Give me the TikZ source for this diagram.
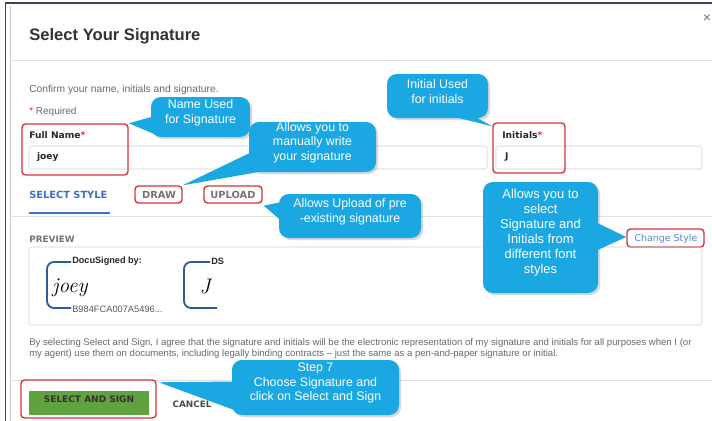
\documentclass[tikz,border=0pt]{standalone}
\usepackage{fontspec}
\newfontfamily\arialf{Liberation Sans}
\newfontfamily\verdf{DejaVu Sans}
\usetikzlibrary{fit,calc,shadows}
\definecolor{callblue}{RGB}{27,168,226}
\definecolor{markred}{RGB}{214,52,60}
\definecolor{tabblue}{RGB}{62,112,200}
\definecolor{btngreen}{RGB}{96,162,64}
\definecolor{sigblue}{RGB}{48,92,150}
\definecolor{frameline}{RGB}{58,70,84}
\definecolor{txtgray}{RGB}{105,105,105}

\tikzset{
  markbox/.style={inner sep=0pt, draw=markred, line width=1pt, rounded corners=2.5pt},
  callbox/.style={inner sep=0pt, fill=callblue, rounded corners=7pt, text=white, align=center,
    font=\arialf\fontsize{8.8}{10.4}\selectfont,
    drop shadow={shadow xshift=1.5pt, shadow yshift=-1.5pt, opacity=0.3}},
  calltail/.style={fill=callblue},
  fieldbox/.style={inner sep=0pt, draw=black!18, rounded corners=1.5pt},
  tablabel/.style={inner sep=0pt, font=\verdf\bfseries\fontsize{7}{8}\selectfont, text=black!55},
  smalltext/.style={inner sep=0pt, anchor=base west, text=txtgray},
  sigline/.style={draw=sigblue, line width=1.3pt, rounded corners=5pt},
  sepline/.style={draw=black!12, line width=0.5pt}
}

\begin{document}
\begin{tikzpicture}[x=0.025cm, y=-0.025cm]
\useasboundingbox (0,0) rectangle (712,421);
\fill[white] (0,0) rectangle (712,421);
\draw[frameline, line width=1.4pt] (5.5,421) -- (5.5,3) -- (712,3);
\draw[black!22] (10,421) -- (10,6);

\node[inner sep=0pt, anchor=base west, text=black!80, font=\arialf\bfseries\fontsize{11.8}{14}\selectfont] (title) at (29,40) {Select Your Signature};
\node[inner sep=0pt, text=black!55, font=\arialf\fontsize{10}{12}\selectfont] (closex) at (707,19) {×};
\draw[sepline] (10,60) -- (712,60);

\node[smalltext, font=\arialf\fontsize{7.3}{8}\selectfont] (confirm) at (29,92) {Confirm your name, initials and signature.};
\node[smalltext, font=\arialf\fontsize{7.1}{8}\selectfont] (required) at (29,114) {\textcolor{markred}{*} Required};

\node[smalltext, text=black!85, font=\verdf\bfseries\fontsize{6.5}{8}\selectfont] (namelabel) at (29,138.5) {Full Name\textcolor{markred}{*}};
\node[fieldbox, fit={(29,146) (487,169)}] (namefield) {};
\node[inner sep=0pt, anchor=west, text=black!85, font=\verdf\bfseries\fontsize{6.5}{8}\selectfont] (namevalue) at ($(namefield.west)+(8,0)$) {joey};
\node[smalltext, text=black!85, font=\verdf\bfseries\fontsize{6.5}{8}\selectfont] (initlabel) at (502,138.5) {Initials\textcolor{markred}{*}};
\node[fieldbox, fit={(496,146) (702,169)}] (initfield) {};
\node[inner sep=0pt, anchor=west, text=black!85, font=\verdf\bfseries\fontsize{6.5}{8}\selectfont] (initvalue) at ($(initfield.west)+(9,0)$) {J};
\node[markbox, fit={(22,124) (128,175)}] (namebox) {};
\node[markbox, fit={(493,123) (565,173)}] (initbox) {};

\node[tablabel, anchor=base west, text=tabblue] (styletab) at (29,198) {SELECT STYLE};
\draw[tabblue, line width=1.4pt] (29,213) -- (110,213);
\node[tablabel] (drawtab) at (159,194.5) {DRAW};
\node[tablabel] (uploadtab) at (233,194.5) {UPLOAD};
\node[markbox, fit={(135,186) (182,203)}] (drawbox) {};
\node[markbox, fit={(204,186) (262,203)}] (uploadbox) {};
\draw[sepline] (10,216) -- (712,216);

\node[tablabel, anchor=base west, font=\verdf\bfseries\fontsize{6.3}{8}\selectfont] (previewlabel) at (29,242) {PREVIEW};
\node[inner sep=0pt, text=tabblue!85, font=\verdf\fontsize{6.7}{8}\selectfont] (changestyle) at (666,238.5) {Change Style};
\node[markbox, fit={(627,229) (704,247)}] (stylebox) {};
\node[fieldbox, fit={(29,247) (702,325)}] (previewbox) {};

\draw[sigline] (71,262) -- (47,262) -- (47,308) -- (71,308);
\node[inner sep=0pt, anchor=west, text=black!85, font=\arialf\bfseries\fontsize{6.5}{8}\selectfont] (docusigned) at (72,261.5) {DocuSigned by:};
\node[inner sep=0pt, anchor=west, text=black!65, font=\arialf\fontsize{6.6}{8}\selectfont] (sigid) at (72,309) {B984FCA007A5496...};
\node[inner sep=0pt, font=\itshape\fontsize{15}{16}\selectfont] (sigjoey) at (70,288) {joey};
\draw[sigline] (210,262) -- (184,262) -- (184,308) -- (217,308);
\node[inner sep=0pt, anchor=west, text=black!85, font=\arialf\bfseries\fontsize{6.5}{8}\selectfont] (dslabel) at (211,261.5) {DS};
\node[inner sep=0pt, font=\itshape\fontsize{15}{16}\selectfont] (sigj) at (205,287) {J};

\node[smalltext, font=\arialf\fontsize{6.8}{8}\selectfont] (terms1) at (29,345) {By selecting Select and Sign, I agree that the signature and initials will be the electronic representation of my signature and initials for all purposes when I (or};
\node[smalltext, font=\arialf\fontsize{6.8}{8}\selectfont] (terms2) at (29,356) {my agent) use them on documents, including legally binding contracts – just the same as a pen-and-paper signature or initial.};
\draw[sepline] (10,380) -- (712,380);

\node[inner sep=0pt, fill=btngreen, text=black!80, font=\verdf\bfseries\fontsize{6.4}{8}\selectfont, fit={(29,391) (149,415)}] (signbtn) {SELECT AND SIGN};
\node[tablabel, text=black!70, font=\verdf\bfseries\fontsize{6.3}{8}\selectfont] (cancelbtn) at (192,404) {CANCEL};
\node[markbox, fit={(21,380) (156,418)}] (signbox) {};

\node[callbox, fit={(151,97) (250,137)}] (namecall) {Name Used\\for Signature};
\fill[calltail] ($(namecall.west)+(4,-1)$) -- (namebox.north east) -- ($(namecall.south west)+(9,-1)$) -- cycle;
\node[callbox, fit={(249,122) (376,172)}] (drawcall) {Allows you to\\manually write\\your signature};
\fill[calltail] ($(drawcall.west)+(3,5)$) -- (drawbox.north east) -- ($(drawcall.south west)+(14,-1)$) -- cycle;
\node[callbox, fit={(387,74) (488,118)}] (initcall) {Initial Used\\for initials};
\fill[calltail] ($(initcall.south)+(14,-2)$) -- ($(initbox.north west)+(0,4)$) -- ($(initcall.south east)+(-14,-2)$) -- cycle;
\node[callbox, fit={(279,194) (421,238)}] (uploadcall) {Allows Upload of pre\\-existing signature};
\fill[calltail] ($(uploadcall.north west)+(4,8)$) -- ($(uploadbox.south east)+(1,2)$) -- ($(uploadcall.west)+(4,6)$) -- cycle;
\node[callbox, font=\arialf\fontsize{9.2}{10.7}\selectfont, fit={(483,182) (598,293)}] (stylecall) {Allows you to\\select\\Signature and\\Initials from\\different font\\styles};
\fill[calltail] ($(stylecall.east)+(-4,-16)$) -- ($(stylebox.west)+(0,-1)$) -- ($(stylecall.east)+(-4,14)$) -- cycle;
\node[callbox, fit={(232,360) (399,415)}] (stepcall) {Step 7\\Choose Signature and\\click on Select and Sign};
\fill[calltail] ($(stepcall.west)+(4,-6)$) -- ($(signbox.north east)+(2,3)$) -- ($(stepcall.south west)+(6,-4)$) -- cycle;
\end{tikzpicture}
\end{document}
